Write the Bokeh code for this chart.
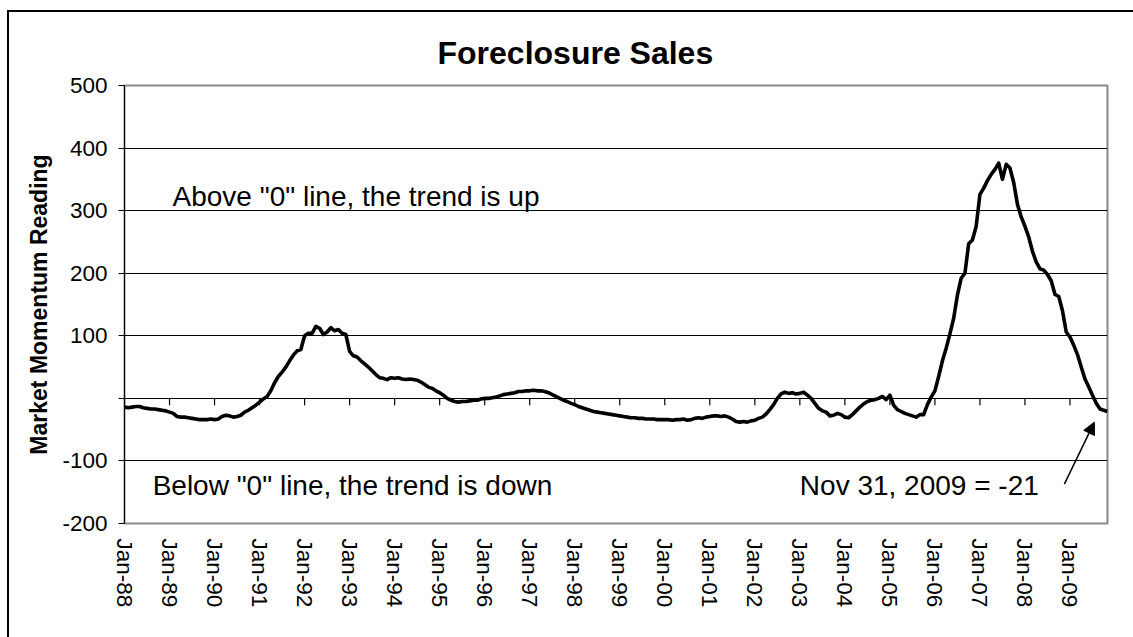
import math
from bokeh.plotting import figure
from bokeh.models import Range1d, FixedTicker, Label, Arrow, NormalHead, Title
from bokeh.embed import file_html
from bokeh.resources import INLINE

title_text = "Foreclosure Sales"
y_title = "Market Momentum Reading"

tick_labels = ["Jan-88", "Jan-89", "Jan-90", "Jan-91", "Jan-92", "Jan-93", "Jan-94",
               "Jan-95", "Jan-96", "Jan-97", "Jan-98", "Jan-99", "Jan-00", "Jan-01",
               "Jan-02", "Jan-03", "Jan-04", "Jan-05", "Jan-06", "Jan-07", "Jan-08",
               "Jan-09"]

# Monthly Market Momentum readings, Jan-1988 .. Nov-2009
v1988 = [-14, -15, -14, -13, -13, -15, -16, -17, -17, -18, -19, -20]
v1989 = [-22, -24, -29, -30, -30, -31, -32, -33, -34, -34, -34, -33]
v1990 = [-34, -33, -29, -27, -28, -30, -29, -27, -22, -19, -15, -11]
v1991 = [-6, -1, 3, 12, 25, 35, 42, 50, 60, 69, 76, 78]
v1992 = [100, 104, 104, 115, 112, 102, 106, 113, 108, 110, 104, 102]
v1993 = [75, 68, 66, 60, 55, 50, 44, 38, 33, 32, 30, 33]
v1994 = [32, 33, 31, 30, 31, 30, 29, 26, 22, 18, 16, 12]
v1995 = [9, 5, 0, -3, -5, -6, -5, -5, -4, -3, -3, -1]
v1996 = [0, 0, 1, 2, 4, 6, 7, 8, 9, 11, 11, 12]
v1997 = [12, 13, 12, 12, 11, 9, 6, 3, 0, -3, -5, -8]
v1998 = [-10, -13, -15, -17, -19, -21, -22, -23, -24, -25, -26, -27]
v1999 = [-28, -29, -30, -31, -31, -32, -32, -33, -33, -33, -34, -34]
v2000 = [-34, -34, -35, -34, -34, -33, -35, -34, -32, -31, -32, -30]
v2001 = [-29, -28, -28, -29, -28, -30, -33, -37, -38, -37, -38, -36]
v2002 = [-35, -32, -30, -25, -18, -10, 0, 7, 10, 8, 9, 7]
v2003 = [8, 10, 5, 0, -8, -16, -20, -22, -28, -27, -24, -26]
v2004 = [-30, -31, -26, -20, -14, -9, -5, -3, -2, 0, 3, -2]
v2005 = [5, -11, -18, -21, -24, -26, -28, -30, -26, -26, -10, 2]
v2006 = [12, 35, 60, 80, 103, 128, 165, 192, 200, 247, 253, 275]
v2007 = [326, 336, 348, 358, 366, 376, 350, 374, 368, 345, 310, 290]
v2008 = [275, 258, 235, 218, 207, 205, 198, 188, 166, 163, 140, 106]
v2009 = [98, 85, 70, 50, 31, 18, 5, -8, -17, -19, -21]

values = (v1988 + v1989 + v1990 + v1991 + v1992 + v1993 + v1994 + v1995 + v1996
          + v1997 + v1998 + v1999 + v2000 + v2001 + v2002 + v2003 + v2004 + v2005
          + v2006 + v2007 + v2008 + v2009)
months = list(range(len(values)))
tick_months = [12 * i for i in range(len(tick_labels))]
y_ticks = [-200, -100, 0, 100, 200, 300, 400, 500]
y_tick_labels = ["-200", "-100", "", "100", "200", "300", "400", "500"]
grid_ticks = [-100, 0, 100, 200, 300, 400]

note_up = 'Above "0" line, the trend is up'
note_down = 'Below "0" line, the trend is down'
note_last = "Nov 31, 2009 = -21"
note_up_pos = (12.8, 323)
note_down_pos = (7.5, -140)
note_last_pos = (180.0, -140)
arrow_start = (250.5, -137)
arrow_end = (258.5, -38)

FONT = "Liberation Sans"
TICK_LEN = 11.2  # zero-line tick length, in y data units (~7 px)

p = figure(width=1126, height=627, output_backend="svg", toolbar_location=None,
           x_range=Range1d(0, len(values) - 1), y_range=Range1d(-200, 500),
           min_border_left=115, min_border_right=28, min_border_top=73,
           min_border_bottom=116, background_fill_color="white",
           border_fill_color="white")
p.margin = (10, 0, 0, 7)
p.styles = {"border-left": "2px solid black", "border-top": "2px solid black"}

p.outline_line_color = "#888888"
p.outline_line_width = 2

t = Title(text=title_text, text_font=FONT, text_font_size="32px", text_color="black",
          text_font_style="bold", align="left", offset=313, standoff=29)
p.add_layout(t, "above")

# y axis
yax = p.yaxis[0]
yax.ticker = FixedTicker(ticks=y_ticks)
yax.major_label_overrides = {v: s for v, s in zip(y_ticks, y_tick_labels)}
yax.minor_tick_line_color = None
yax.major_tick_out = 6
yax.major_tick_in = 0
yax.major_label_standoff = 11
yax.axis_line_color = "black"
yax.major_tick_line_color = "black"
yax.major_label_text_font = FONT
yax.major_label_text_font_size = "22.5px"
yax.major_label_text_color = "black"
yax.axis_label = y_title
yax.axis_label_text_font = FONT
yax.axis_label_text_font_size = "23px"
yax.axis_label_text_font_style = "bold"
yax.axis_label_text_color = "black"
yax.axis_label_standoff = 7

# x axis labels at bottom
xax = p.xaxis[0]
xax.ticker = FixedTicker(ticks=tick_months)
xax.major_label_overrides = {m: lab for m, lab in zip(tick_months, tick_labels)}
xax.major_label_orientation = -math.pi / 2
xax.axis_line_color = None
xax.major_tick_line_color = None
xax.minor_tick_line_color = None
xax.major_tick_out = 0
xax.major_tick_in = 0
xax.major_label_standoff = 15
xax.major_label_text_font = FONT
xax.major_label_text_font_size = "22.5px"
xax.major_label_text_color = "black"

p.xgrid.visible = False
p.ygrid.ticker = FixedTicker(ticks=grid_ticks)
p.ygrid.grid_line_color = "black"
p.ygrid.grid_line_width = 1

# category tick marks hanging below the zero line
p.segment(x0=tick_months, y0=[0] * len(tick_months), x1=tick_months,
          y1=[-TICK_LEN] * len(tick_months), line_color="black", line_width=1.2)

p.line(months, values, line_color="black", line_width=3.6, line_join="round")

for txt, pos in [(note_up, note_up_pos), (note_down, note_down_pos), (note_last, note_last_pos)]:
    p.add_layout(Label(x=pos[0], y=pos[1], text=txt, text_font=FONT,
                       text_font_size="28px", text_color="black",
                       text_baseline="alphabetic", text_align="left"))

p.add_layout(Arrow(x_start=arrow_start[0], y_start=arrow_start[1],
                   x_end=arrow_end[0], y_end=arrow_end[1], line_width=1.5,
                   line_color="black",
                   end=NormalHead(size=12, fill_color="black", line_color="black")))

open("out.html", "w").write(file_html(p, INLINE))
